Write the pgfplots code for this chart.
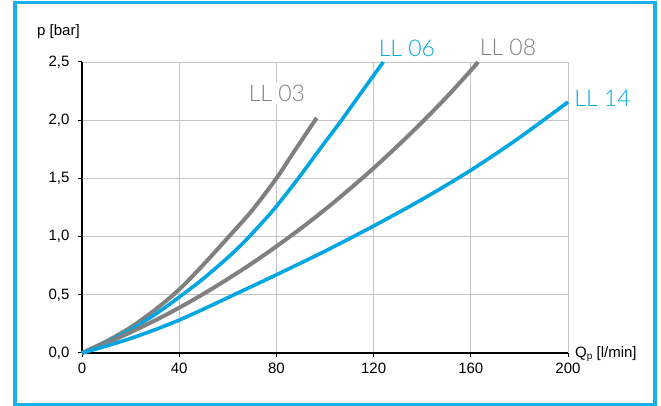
\documentclass[border=0pt]{standalone}
\usepackage{fontspec}
\setmainfont{Liberation Sans}
\newfontfamily\labfont{Lato Light}
\usepackage{pgfplots}
\pgfplotsset{compat=1.18}

\definecolor{llblue}{RGB}{0,166,226}
\definecolor{llgray}{RGB}{128,128,128}
\definecolor{framecol}{RGB}{30,174,230}
\definecolor{gridcol}{RGB}{196,196,196}

\begin{document}
\begin{tikzpicture}[x=1pt,y=1pt]
\path[use as bounding box] (0,0) rectangle (661,406);
\draw[framecol, line width=3.3pt] (15,1.35) rectangle (655,403.3);

\begin{axis}[
    at={(82pt,53pt)}, anchor=south west,
    width=486pt, height=291pt, scale only axis,
    xmin=0, xmax=200, ymin=0, ymax=2.5,
    xtick={0,40,...,200}, ytick={0,0.5,...,2.5},
    axis lines=left,
    axis line style={-, line width=1.2pt, black},
    tick align=outside, major tick length=4pt,
    tick style={black, line width=1pt},
    grid=major, grid style={gridcol, line width=0.9pt},
    font=\fontsize{15}{18}\selectfont,
    /pgf/number format/assume math mode=true,
    yticklabel style={xshift=-5pt, /pgf/number format/.cd, use comma, fixed, fixed zerofill, precision=1},
    xticklabel style={yshift=-2pt},
    clip=false,
    every axis plot/.append style={smooth, tension=0.5},
]
% LL 03
\addplot[llgray, line width=4pt] coordinates {
 (0,0) (10,0.1) (20,0.22) (30,0.37) (40,0.545) (50,0.76) (60,0.99) (70,1.225)
 (80,1.5) (86,1.69) (90,1.815) (94,1.94) (96.6,2.02)};
% LL 06
\addplot[llblue, line width=3.6pt] coordinates {
 (0,0) (10,0.09) (20,0.2) (30,0.33) (40,0.48) (50,0.64) (60,0.82) (67,0.96)
 (75,1.14) (80,1.26) (89,1.5) (98,1.755) (106.8,2.0) (115,2.24) (124,2.5)};
% LL 08
\addplot[llgray, line width=4pt] coordinates {
 (0,0) (10,0.084) (20,0.178) (30,0.279) (40,0.389) (50,0.508) (60,0.636)
 (70,0.771) (80,0.916) (90,1.069) (100,1.232) (110,1.406) (120,1.588)
 (130,1.781) (140,1.984) (150,2.198) (160,2.427) (163,2.5)};
% LL 14
\addplot[llblue, line width=3.6pt] coordinates {
 (0,0) (10,0.06) (20,0.125) (30,0.2) (40,0.283) (50,0.377) (60,0.475) (80,0.672)
 (100,0.875) (120,1.091) (140,1.32) (160,1.57) (180,1.85) (200,2.156)};

\node[llgray, fill=white, inner sep=3pt, font=\labfont\fontsize{23}{26}\selectfont] at (axis cs:80.2,2.234) {LL 03};
\node[llblue, inner sep=0pt, font=\labfont\fontsize{23}{26}\selectfont] at (axis cs:133.7,2.618) {LL 06};
\node[llgray, fill=white, inner sep=3pt, font=\labfont\fontsize{23}{26}\selectfont] at (axis cs:178.4,2.625) {LL 08\kern15pt};
\node[llblue, inner sep=0pt, font=\labfont\fontsize{23}{26}\selectfont] at (axis cs:214.2,2.188) {LL 14};
\end{axis}

\node[anchor=base west, inner sep=0pt, font=\fontsize{15}{18}\selectfont] at (37,370.5) {p [bar]};
\node[anchor=base west, inner sep=0pt, font=\fontsize{15}{18}\selectfont] at (575,48.5) {Q\raisebox{-2.5pt}{\fontsize{10}{12}\selectfont p} [l/min]};
\end{tikzpicture}
\end{document}
